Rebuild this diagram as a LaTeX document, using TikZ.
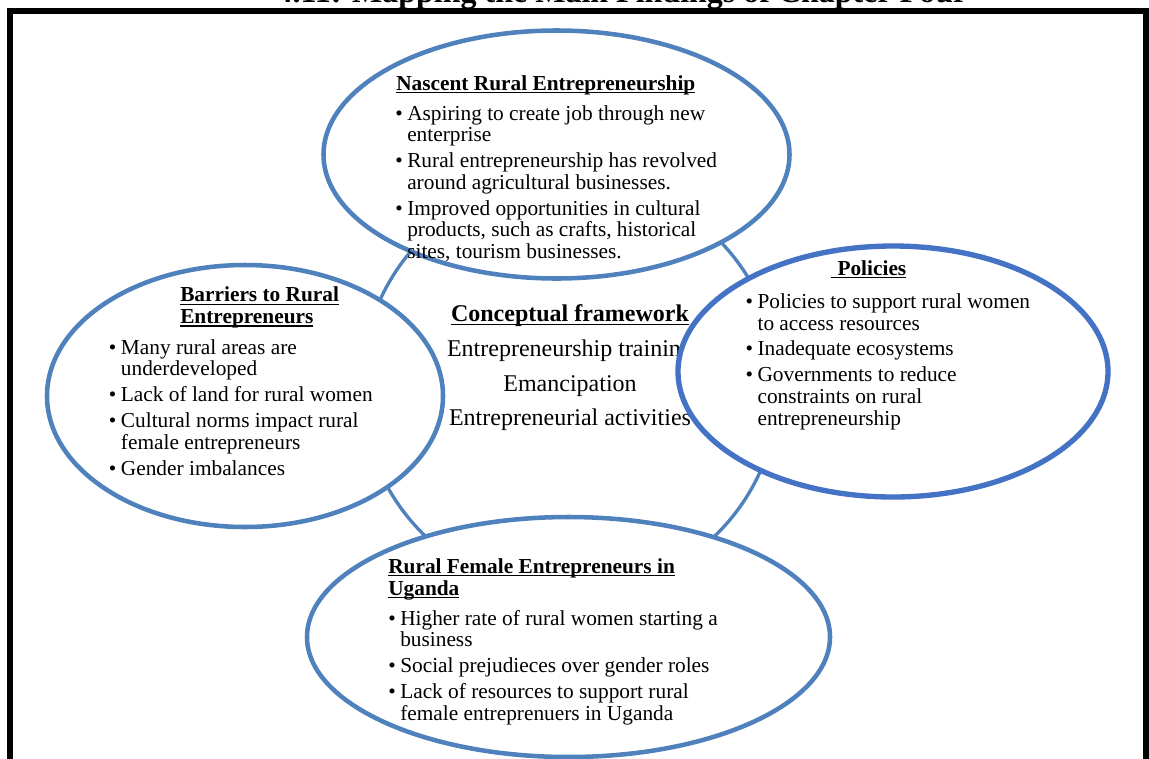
\documentclass[tikz,border=0pt]{standalone}
\usepackage{fontspec}
\setmainfont{Liberation Serif}
\usepackage{tikz}
\usetikzlibrary{positioning, shapes.geometric}
\definecolor{ovalblue}{HTML}{4F81BD}
\definecolor{policyblue}{HTML}{4472C4}
\newsavebox{\headulbox}
\newcommand{\headul}[1]{\sbox{\headulbox}{#1}\rlap{\usebox{\headulbox}}\rule[-2.3pt]{\wd\headulbox}{0.9pt}}

\begin{document}
\begin{tikzpicture}[x=0.75pt, y=-0.75pt,
		oval/.style={ellipse, draw=ovalblue, line width=3.4pt, fill=white, inner sep=0pt},
		hub/.style={circle, draw=ovalblue, line width=2.5pt, inner sep=0pt, minimum size=312.75pt},
		heading/.style={anchor=base west, inner sep=0pt, font=\fontsize{16}{16.3}\selectfont\bfseries},
		bullets/.style={anchor=base west, inner sep=0pt, font=\fontsize{16}{16.3}\selectfont},
		hubtext/.style={anchor=base, inner sep=0pt, font=\fontsize{18}{26}\selectfont}]
		\useasboundingbox (0,0) rectangle (1149,758);
		% title, cut by the page edge
		\node[anchor=base, inner sep=0pt, font=\fontsize{24}{24}\selectfont\bfseries] (title) at (622,2.5)
		{4.11: Mapping the Main Findings of Chapter Four};
		\draw[line width=4.5pt] (10.3,800) -- (10.3,11.3) -- (1146.2,11.3) -- (1146.2,800);
		% central frame
		\node[hub] (hub) at (570,386) {};
		\node[hubtext] (hubText) at (570,321.7) {\begin{tabular}[t]{@{}c@{}}
				\textbf{\headul{Conceptual framework}}\\
				Entrepreneurship training\\
				Emancipation\\
				Entrepreneurial activities
		\end{tabular}};
		% the four findings
		\node[oval, minimum width=349.5pt, minimum height=186pt] (nascent) at (556.5,154.5) {};
		\node[oval, minimum width=297pt, minimum height=196.5pt] (barriers) at (245,396) {};
		\node[oval, minimum width=392.25pt, minimum height=180pt] (female) at (568.5,637) {};
		\node[oval, draw=policyblue, line width=4pt, minimum width=322.5pt, minimum height=188.25pt] (policies) at (893,371.5) {};
		
		\node[heading] (nascentHead) at (396,90) {\headul{Nascent Rural Entrepreneurship}};
		\node[bullets] (nascentList) at (395,120) {\begin{tabular}[t]{@{}l@{\hspace{3.4pt}}l@{}}
				\textbullet & Aspiring to create job through new\\
				& enterprise\\[3.1pt]
				\textbullet & Rural entrepreneurship has revolved\\
				& around agricultural businesses.\\[3.1pt]
				\textbullet & Improved opportunities in cultural\\
				& products, such as crafts, historical\\
				& sites, tourism businesses.
		\end{tabular}};
		
		\node[heading] (barriersHead) at (180,301.7) {\begin{tabular}[t]{@{}l@{}}
				\headul{Barriers to Rural}\\
				\headul{Entrepreneurs}
		\end{tabular}};
		\node[bullets] (barriersList) at (108.7,354) {\begin{tabular}[t]{@{}l@{\hspace{3.4pt}}l@{}}
				\textbullet & Many rural areas are\\
				& underdeveloped\\[3.1pt]
				\textbullet & Lack of land for rural women\\[3.1pt]
				\textbullet & Cultural norms impact rural\\
				& female entrepreneurs\\[3.1pt]
				\textbullet & Gender imbalances
		\end{tabular}};
		
		\node[heading] (policiesHead) at (831,275) {\headul{\hspace*{4.7pt}Policies}};
		\node[bullets] (policiesList) at (745.3,308.3) {\begin{tabular}[t]{@{}l@{\hspace{3.4pt}}l@{}}
				\textbullet & Policies to support rural women\\
				& to access resources\\[3.1pt]
				\textbullet & Inadequate ecosystems\\[3.1pt]
				\textbullet & Governments to reduce\\
				& constraints on rural\\
				& entrepreneurship
		\end{tabular}};
		
		\node[heading] (femaleHead) at (388,573.3) {\begin{tabular}[t]{@{}l@{}}
				\headul{Rural Female Entrepreneurs in}\\
				\headul{Uganda}
		\end{tabular}};
		\node[bullets] (femaleList) at (388,625) {\begin{tabular}[t]{@{}l@{\hspace{3.4pt}}l@{}}
				\textbullet & Higher rate of rural women starting a\\
				& business\\[3.1pt]
				\textbullet & Social prejudieces over gender roles\\[3.1pt]
				\textbullet & Lack of resources to support rural\\
				& female entreprenuers in Uganda
		\end{tabular}};
	\end{tikzpicture}
\end{document}
